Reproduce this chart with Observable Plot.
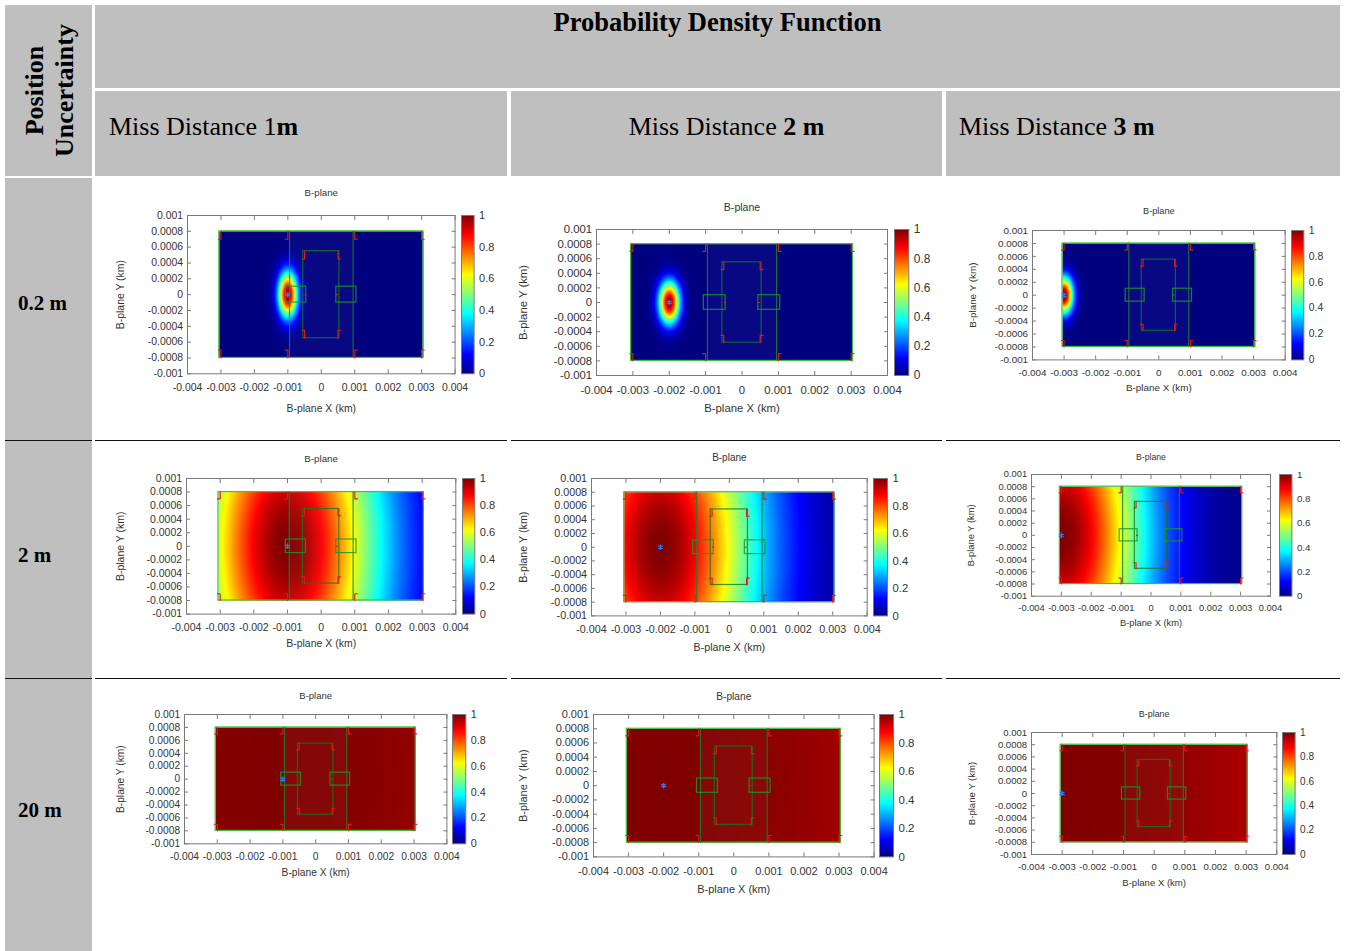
<!DOCTYPE html>
<html>
<head>
<meta charset="utf-8">
<script src="https://cdn.jsdelivr.net/npm/d3@7"></script>
<script src="https://cdn.jsdelivr.net/npm/@observablehq/plot@0.6"></script>
<style>
  body { margin: 0; background: #fff; }
  #page { position: relative; width: 1346px; height: 951px; overflow: hidden; }
  #page svg { position: absolute; }
</style>
</head>
<body>
<div id="page"></div>
<script>
// ---- Table text ----
const tableTitle = "Probability Density Function";
const cornerHeader = ["Position", "Uncertainty"];
const missHeaders = [["Miss Distance 1", "m"], ["Miss Distance ", "2 m"], ["Miss Distance ", "3 m"]];
const uncertaintyLabels = ["0.2 m", "2 m", "20 m"];

// ---- Encounter parameters ----
const missDistances = [1, 2, 3];        // m, offset of the object along -X
const uncertainties = [0.2, 2, 20];     // m, 1-sigma position uncertainty

// ---- Axis ticks ----
const xTicks = [-0.004, -0.003, -0.002, -0.001, 0, 0.001, 0.002, 0.003, 0.004];
const yTicks = [-0.001, -0.0008, -0.0006, -0.0004, -0.0002, 0, 0.0002, 0.0004, 0.0006, 0.0008, 0.001];
const cbTicks = [0, 0.2, 0.4, 0.6, 0.8, 1];

// ---- Spacecraft outline in the B-plane (km) ----
const bodyX = [-0.00305, 0.00305];
const bodyY = [-0.0008, 0.0008];
const jointX = [-0.00095, 0.00095];
const coreX = [-0.00054, 0.00054];
const coreY = [-0.00055, 0.00055];
const padsX = [[-0.00105, -0.00045], [0.00045, 0.00105]];
const padsY = [-0.0001, 0.0001];
const bodyMarkX = [-0.003, -0.001, 0.001, 0.003];
const coreMarkX = [-0.0005, 0.0005];

// jet colour map
const jetScale = d3.scaleLinear()
  .domain([0, 0.125, 0.375, 0.625, 0.875, 1])
  .range(["#00007f", "#0000ff", "#00ffff", "#ffff00", "#ff0000", "#7f0000"])
  .clamp(true);
const jet = t => jetScale(t);

const page = document.getElementById("page");

// ---- Table background, rules and headers ----
const grey = "#bfbfbf";
const serif = "'Liberation Serif', 'Times New Roman', serif";
const table = d3.create("svg").attr("width", 1346).attr("height", 951)
  .style("left", "0px").style("top", "0px");
[[5, 5, 87, 171], [95, 5, 1245, 83], [95, 91, 412, 85], [511, 91, 431, 85], [946, 91, 394, 85], [5, 178, 87, 773]]
  .forEach(([x, y, w, h]) => table.append("rect").attr("x", x).attr("y", y).attr("width", w).attr("height", h).attr("fill", grey));
[440.5, 678.5].forEach(y => {
  [[5, 92], [95, 507], [511, 942], [946, 1340]].forEach(([a, b]) =>
    table.append("line").attr("x1", a).attr("x2", b).attr("y1", y).attr("y2", y)
      .attr("stroke", "#111").attr("stroke-width", 1));
});
const T = table.append("g").attr("font-family", serif).attr("fill", "#000");
T.append("text").attr("x", 717.5).attr("y", 30.5).attr("text-anchor", "middle")
  .attr("font-size", 26.5).attr("font-weight", "bold").text(tableTitle);
T.append("text").attr("transform", "translate(43,90.5) rotate(-90)").attr("text-anchor", "middle")
  .attr("font-size", 26).attr("font-weight", "bold").text(cornerHeader[0]);
T.append("text").attr("transform", "translate(72.5,90.5) rotate(-90)").attr("text-anchor", "middle")
  .attr("font-size", 26).attr("font-weight", "bold").text(cornerHeader[1]);
const headerPos = [[109, "start"], [726.5, "middle"], [959, "start"]];
missHeaders.forEach(([plain, strong], j) => {
  const t = T.append("text").attr("x", headerPos[j][0]).attr("y", 135)
    .attr("text-anchor", headerPos[j][1]).attr("font-size", 26);
  t.append("tspan").text(plain);
  t.append("tspan").attr("font-weight", "bold").text(strong);
});
[310, 561.5, 817].forEach((y, i) =>
  T.append("text").attr("x", 18).attr("y", y).attr("font-size", 21).attr("font-weight", "bold").text(uncertaintyLabels[i]));
page.appendChild(table.node());

// ---- Plot frames: position of each panel's plotting area and colour bar ----
const frames = [
  [
    {x: 186.7, y: 214.7, w: 267.6, h: 158.3, cb: 460.7, cbw: 12.6, t: 22.7, xl: 35, yl: 66.7},
    {x: 595.7, y: 228.7, w: 291, h: 146, cb: 894, cbw: 14.3, t: 21.7, xl: 32.6, yl: 72.7},
    {x: 1032.3, y: 230.3, w: 252.7, h: 129.4, cb: 1291, cbw: 12.3, t: 19, xl: 28.3, yl: 60}
  ],
  [
    {x: 185.7, y: 477.7, w: 269.3, h: 135.6, cb: 461.7, cbw: 12.3, t: 19.4, xl: 30, yl: 65.7},
    {x: 591, y: 478.3, w: 275.7, h: 137.4, cb: 872.7, cbw: 14, t: 20.3, xl: 31.3, yl: 68},
    {x: 1031, y: 474.3, w: 239, h: 121.7, cb: 1279.3, cbw: 12.4, t: 17.6, xl: 26.7, yl: 60.5}
  ],
  [
    {x: 184.3, y: 714, w: 262.4, h: 129.3, cb: 451.7, cbw: 13.3, t: 18.3, xl: 29.4, yl: 63.3},
    {x: 592.7, y: 714.3, w: 280.6, h: 142.4, cb: 879.3, cbw: 14, t: 17.6, xl: 32.6, yl: 69.7},
    {x: 1030.7, y: 731.7, w: 245.3, h: 122, cb: 1281.7, cbw: 12.6, t: 18.7, xl: 28.3, yl: 59.7}
  ]
];

const sans = "'Liberation Sans', Arial, sans-serif";
const axisGrey = "#7a7a7a";
const textGrey = "#333";
const fmt = d => String(+d.toFixed(4));

// red corner brackets on the body and core
const brackets = [];
let bid = 0;
const addBracket = (x, ye, len, foot) => {
  const s = Math.sign(ye), h = Math.sign(x) * foot, y2 = ye - s * len;
  brackets.push({id: bid, x: x + h, y: y2}, {id: bid, x, y: y2}, {id: bid, x, y: ye});
  bid++;
};
bodyMarkX.forEach(x => bodyY.forEach(y => addBracket(x, y, 0.0001, 0.00008)));
coreMarkX.forEach(x => coreY.forEach(y => addBracket(x, y, 0.0001, 0.00008)));
const padTicks = coreMarkX.map((x, k) => ({id: k, x1: x, x2: x - Math.sign(x) * 0.00006}));

function outline(xs, ys, stroke, opacity) {
  return Plot.rect([{x1: xs[0], x2: xs[1], y1: ys[0], y2: ys[1]}],
    {x1: "x1", x2: "x2", y1: "y1", y2: "y2", fill: "none", stroke, strokeOpacity: opacity, strokeWidth: 1.2});
}

function bPlane(i, j) {
  const f = frames[i][j];
  const miss = missDistances[j] / 1000;       // km
  const sigma = uncertainties[i] / 1000;      // km
  const pdf = (x, y) => Math.exp(-((x + miss) ** 2 + y ** 2) / (2 * sigma * sigma));
  const fs = f.w * 0.039;
  const M = {l: 92, r: 12, t: 34, b: 46};
  const section = (x1, x2, extra = {}) =>
    Plot.raster({x1, x2, y1: bodyY[0], y2: bodyY[1], fill: pdf, ...extra});
  const svg = Plot.plot({
    width: f.w + M.l + M.r,
    height: f.h + M.t + M.b,
    marginLeft: M.l, marginRight: M.r, marginTop: M.t, marginBottom: M.b,
    style: {fontFamily: sans, fontSize: `${fs}px`, color: textGrey, background: "transparent", overflow: "visible"},
    x: {domain: [-0.004, 0.004]},
    y: {domain: [-0.001, 0.001]},
    color: {type: "linear", domain: [0, 1], interpolate: jet},
    marks: [
      section(bodyX[0], jointX[0]),
      section(jointX[0], jointX[1], {opacity: 0.97}),
      section(jointX[1], bodyX[1]),
      outline(bodyX, bodyY, "#3cbf3c", 1),
      Plot.ruleX(jointX, {y1: bodyY[0], y2: bodyY[1], stroke: "#0f7a1f", strokeOpacity: 0.8, strokeWidth: 1.2}),
      outline(coreX, coreY, "#0f7a1f", 0.8),
      ...padsX.map(px => outline(px, padsY, "#17992a", 0.85)),
      Plot.line(brackets, {x: "x", y: "y", z: "id", stroke: "#e8161b", strokeWidth: 1.1}),
      Plot.link(padTicks, {x1: "x1", x2: "x2", y1: 0, y2: 0, stroke: "#e8161b", strokeWidth: 1.1}),
      Plot.dot([[-miss, 0]], {x: d => d[0], y: d => d[1], symbol: "asterisk", r: 2.6, stroke: "#2a7dff", strokeWidth: 1.2}),
      Plot.frame({stroke: axisGrey}),
      Plot.axisX(xTicks, {anchor: "bottom", tickSize: -4, tickPadding: 4 + fs * 0.92, tickFormat: fmt,
        stroke: axisGrey, fill: textGrey, fontSize: fs, label: null}),
      Plot.axisX(xTicks, {anchor: "top", tickSize: -4, tickFormat: () => "", stroke: axisGrey, label: null}),
      Plot.axisY(yTicks, {anchor: "left", tickSize: -4, tickPadding: 8.4, tickFormat: fmt,
        stroke: axisGrey, fill: textGrey, fontSize: fs, label: null}),
      Plot.axisY(yTicks, {anchor: "right", tickSize: -4, tickFormat: () => "", stroke: axisGrey, label: null}),
      Plot.text(["B-plane"], {text: d => d, frameAnchor: "top", dy: -f.t, lineAnchor: "middle",
        textAnchor: "middle", fontSize: fs * 0.93, fill: textGrey}),
      Plot.text(["B-plane X (km)"], {text: d => d, frameAnchor: "bottom", dy: f.xl, lineAnchor: "middle",
        textAnchor: "middle", fontSize: fs, fill: textGrey}),
      Plot.text(["B-plane Y (km)"], {text: d => d, frameAnchor: "left", dx: -f.yl, rotate: -90,
        lineAnchor: "middle", textAnchor: "middle", fontSize: fs, fill: textGrey})
    ]
  });
  svg.style.left = `${f.x - M.l}px`;
  svg.style.top = `${f.y - M.t}px`;
  page.appendChild(svg);

  // colour bar
  const mt = 8, mr = 40;
  const bar = Plot.plot({
    width: f.cbw + mr,
    height: f.h + 2 * mt,
    marginLeft: 0, marginRight: mr, marginTop: mt, marginBottom: mt,
    style: {fontFamily: sans, fontSize: `${fs * 1.05}px`, color: textGrey, background: "transparent", overflow: "visible"},
    x: {domain: [0, 1], axis: null},
    y: {domain: [0, 1]},
    color: {type: "linear", domain: [0, 1], interpolate: jet},
    marks: [
      Plot.raster({x1: 0, x2: 1, y1: 0, y2: 1, fill: (x, y) => y}),
      Plot.frame({stroke: axisGrey}),
      Plot.axisY(cbTicks, {anchor: "right", tickSize: 0, tickPadding: 5, tickFormat: d => String(d),
        fill: textGrey, fontSize: fs * 1.05, label: null})
    ]
  });
  bar.style.left = `${f.cb}px`;
  bar.style.top = `${f.y - mt}px`;
  page.appendChild(bar);
}

uncertainties.forEach((_, i) => missDistances.forEach((_, j) => bPlane(i, j)));
</script>
</body>
</html>
